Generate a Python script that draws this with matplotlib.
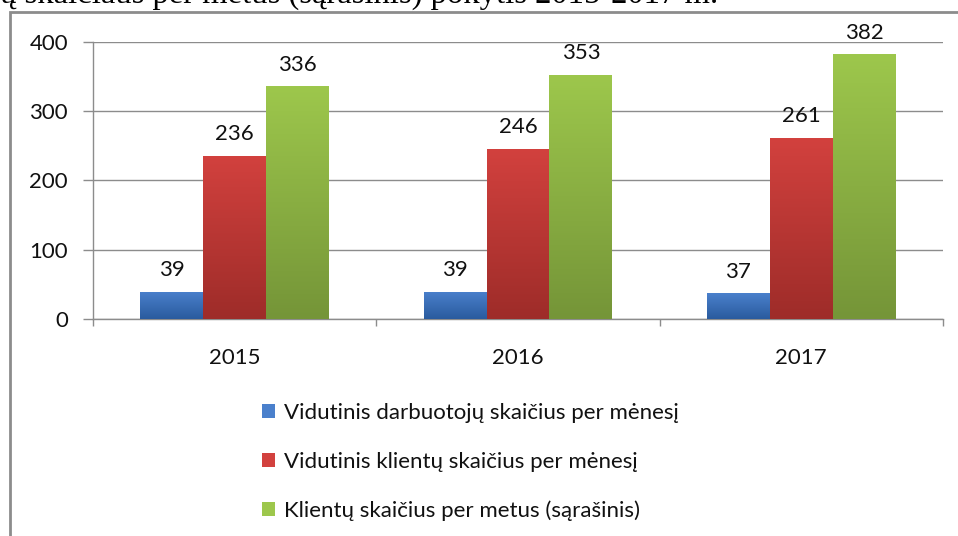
import numpy as np
import matplotlib.pyplot as plt
from matplotlib.patches import Patch, Rectangle
from matplotlib.colors import LinearSegmentedColormap

# Data
years = ['2015', '2016', '2017']
darbuotojai = [39, 39, 37]
klientai_men = [236, 246, 261]
klientai_metai = [336, 353, 382]

series = [
    ('Vidutinis darbuotojų skaičius per mėnesį', darbuotojai, ('#4A80CC', '#2A5B9E')),
    ('Vidutinis klientų skaičius per mėnesį', klientai_men, ('#D2413E', '#9E2C29')),
    ('Klientų skaičius per metus (sąrašinis)', klientai_metai, ('#9DC74C', '#759538')),
]

plt.rcParams['font.family'] = ['Lato', 'DejaVu Sans']
fs = 16
txt = '#111111'

fig = plt.figure(figsize=(9.58, 5.36), dpi=100)
ax = fig.add_axes([0.0971, 0.4049, 0.8872, 0.5167])

x = np.arange(len(years))
width = 0.222
grad = np.linspace(0, 1, 100).reshape(-1, 1)

for i, (name, vals, (top, bottom)) in enumerate(series):
    pos = x + (i - 1) * width
    bars = ax.bar(pos, vals, width, color=top, linewidth=0, zorder=2)
    cmap = LinearSegmentedColormap.from_list(name, [top, bottom])
    for b in bars:
        x0, w, h = b.get_x(), b.get_width(), b.get_height()
        im = ax.imshow(grad, cmap=cmap, extent=[x0, x0 + w, 0, h],
                       aspect='auto', origin='upper', zorder=3)
        im.set_clip_path(b)
    for p, v in zip(pos, vals):
        ax.annotate(str(v), (p, v), xytext=(0, 8.5), textcoords='offset points',
                    ha='center', va='bottom', fontsize=fs, color=txt)

ax.set_xlim(-0.5, 2.5)
ax.set_ylim(0, 400)
ax.set_yticks([0, 100, 200, 300, 400])
ax.yaxis.grid(True, color='#8c8c8c', linewidth=1)
ax.set_axisbelow(True)

ax.set_xticks(x)
ax.set_xticklabels(years)
ax.set_xticks([-0.5, 0.5, 1.5, 2.5], minor=True)
ax.tick_params(axis='x', which='major', length=0, pad=21, labelsize=fs, labelcolor=txt)
ax.tick_params(axis='x', which='minor', length=5, color='#8c8c8c', width=1)
ax.tick_params(axis='y', length=7, color='#8c8c8c', width=1, pad=11, labelsize=fs, labelcolor=txt)

for s in ['top', 'right']:
    ax.spines[s].set_visible(False)
for s in ['left', 'bottom']:
    ax.spines[s].set_color('#8c8c8c')
    ax.spines[s].set_linewidth(1)

handles = [Patch(facecolor=c[0], label=n) for n, _, c in series]
ax.legend(handles=handles, loc='upper left', bbox_to_anchor=(262 / 958, 1 - 403 / 536),
          bbox_transform=fig.transFigure, frameon=False, fontsize=fs,
          handlelength=0.6, handleheight=0.6, handletextpad=0.4, labelspacing=1.29,
          borderaxespad=0, borderpad=0, labelcolor=txt)

# Outer frame of the embedded chart
fig.add_artist(Rectangle((10 / 958, -0.1), 1.2, (536 - 12) / 536 + 0.1,
                         transform=fig.transFigure, fill=False,
                         edgecolor='#8c8c8c', linewidth=2, clip_on=False))

# Cut-off document text above the chart
fig.text(0.0, 1 - 3 / 536, 'ų skaičiaus per metus (sąrašinis) pokytis 2015-2017 m.',
         family='Liberation Serif', fontsize=23.5, ha='left', va='baseline', color='black')

fig.savefig('out.png', dpi=100)
